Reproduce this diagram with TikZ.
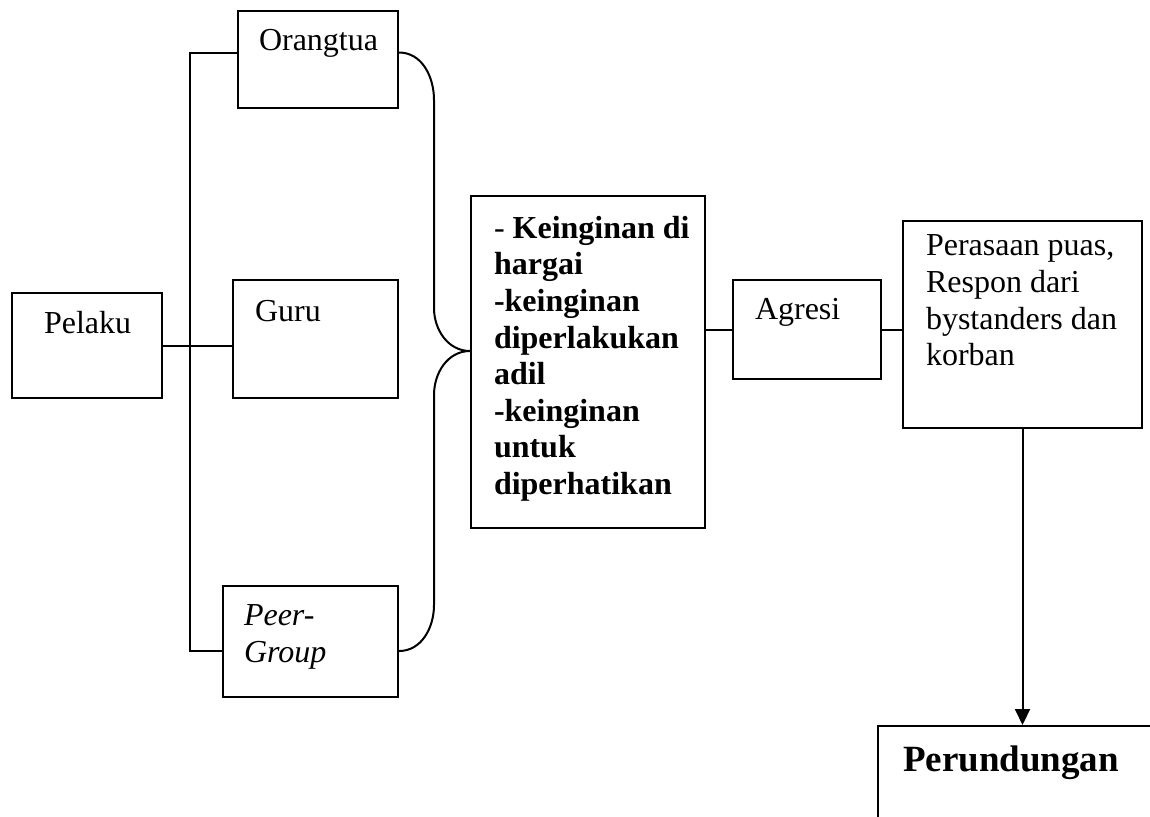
\documentclass[tikz,border=0pt]{standalone}
\usepackage{fontspec}
\setmainfont{Liberation Serif}
\usetikzlibrary{arrows.meta,positioning}
\begin{document}
\begin{tikzpicture}[x=0.5pt,y=-0.5pt,line width=1pt,
  box/.style={draw,rectangle,inner sep=0pt},
  txt/.style={inner sep=0pt,font=\fontsize{16}{18.3}\selectfont,align=left}]
\clip (0,0) rectangle (1150,816);
% boxes
\node[box,minimum width=75pt,minimum height=52.5pt] (pelaku) at (87,345.5) {};
\node[box,minimum width=80pt,minimum height=48.5pt] (orangtua) at (318,59.5) {};
\node[box,minimum width=82.5pt,minimum height=59pt] (guru) at (315.5,339) {};
\node[box,minimum width=87.5pt,minimum height=55.5pt] (peer) at (310.5,641.5) {};
\node[box,minimum width=117pt,minimum height=166pt] (keinginan) at (588,362) {};
\node[box,minimum width=74pt,minimum height=49.5pt] (agresi) at (807,329.5) {};
\node[box,minimum width=119.5pt,minimum height=103.5pt] (respon) at (1022.5,324.5) {};
\node[box,minimum width=160pt,minimum height=87pt] (perundungan) at (1038,813) {};
% texts
\node[txt,anchor=base west] (pelakutxt) at (43,333) {Pelaku};
\node[txt,anchor=base west] (orangtuatxt) at (258,50) {Orangtua};
\node[txt,anchor=base west] (gurutxt) at (254,321) {Guru};
\node[txt,anchor=north west,font=\fontsize{16}{18.5}\selectfont\itshape] (peertxt) at (243,604) {Peer-\\Group};
\node[txt,anchor=north west,font=\fontsize{16}{18.3}\selectfont\bfseries] (keinginantxt) at (493,215)
  {{\mdseries -} Keinginan di\\hargai\\-keinginan\\diperlakukan\\adil\\-keinginan\\untuk\\diperhatikan};
\node[txt,anchor=base west] (agresitxt) at (754,319) {Agresi};
\node[txt,anchor=north west] (respontxt) at (925,234) {Perasaan puas,\\Respon dari\\bystanders dan\\korban};
\node[txt,anchor=base,font=\fontsize{18.5}{22}\selectfont\bfseries] (perundungantxt) at (1011,771) {Perundungan};
% connectors
\draw ([yshift=3.5pt]orangtua.west) -- ++(-47,0) |- ([yshift=-4.75pt]peer.west);
\draw (pelaku.east) -- (pelaku.east -| guru.west);
\coordinate (tip) at ([yshift=5.5pt]keinginan.west);
\draw ([yshift=3.5pt]orangtua.east) to[out=0,in=90] (434,100) -- (434,308) to[out=-90,in=180] (tip)
  (tip) to[out=180,in=90] (434,395) -- (434,605) to[out=-90,in=0] ([yshift=-4.75pt]peer.east);
\draw (keinginan.east |- agresi.west) -- (agresi.west);
\draw (agresi.east) -- (agresi.east -| respon.west);
\draw[-{Triangle[width=7.5pt,length=8pt]}] (respon.south) -- (respon.south |- perundungan.north);
\end{tikzpicture}
\end{document}
